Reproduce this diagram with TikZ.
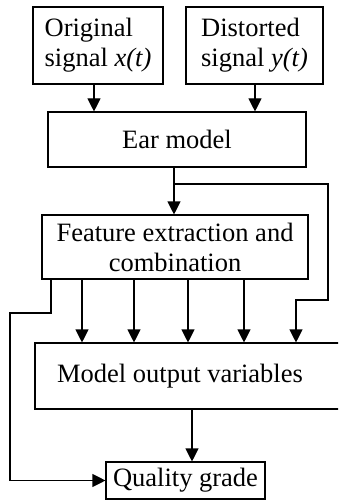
\documentclass[tikz,border=0pt]{standalone}
\usepackage{fontspec}
\setmainfont{Liberation Serif}
\usetikzlibrary{arrows.meta}
\begin{document}
\begin{tikzpicture}[x=1pt,y=-1pt,
  box/.style={draw,line width=1.1pt,rectangle,inner sep=0pt,
    font=\fontsize{26.5}{30}\selectfont},
  flow/.style={line width=1.1pt,-{Triangle[width=13pt,length=13pt]}},
  wire/.style={line width=1.1pt}]
\useasboundingbox (0,0) rectangle (338,500);
\clip (0,0) rectangle (338,500);

% blocks
\node[box,minimum width=130pt,minimum height=77pt,align=left] (orig) at (98,45.5)
  {Original\\signal \textit{x(t)}};
\node[box,minimum width=137pt,minimum height=77pt,align=left] (dist) at (254.5,45.5)
  {Distorted\\signal \textit{y(t)}};
\node[box,minimum width=258pt,minimum height=55pt] (ear) at (177,139.5) {Ear model};
\node[box,minimum width=266pt,minimum height=64pt,align=center] (feat) at (175,247)
  {Feature extraction and\\combination};
\node[box,minimum width=310pt,minimum height=66pt] (mov) at (190,376) {};
\node[font=\fontsize{26.5}{30}\selectfont,inner sep=0pt] (movtxt) at (180,376)
  {Model output variables};
\node[box,minimum width=159pt,minimum height=37pt] (qual) at (185.5,480.5) {Quality grade};

% inputs to the ear model
\draw[flow] (94,0 |- orig.south) -- (94,0 |- ear.north);
\draw[flow] (255,0 |- dist.south) -- (255,0 |- ear.north);

% ear model to feature extraction, with a branch round the right side
\coordinate (j) at (174,184);
\draw[flow] (174,0 |- ear.south) -- (174,0 |- feat.north);
\draw[flow] (j) -- (328,184) -- (328,300) -- (296,300) -- (296,0 |- mov.north);

% feature outputs
\foreach \px in {82,134,188,244}
  \draw[flow] (\px,0 |- feat.south) -- (\px,0 |- mov.north);

% bypass to the quality grade
\draw[flow] (51,0 |- feat.south) -- (51,313) -- (10,313) -- (10,0 |- qual.west) -- (qual.west);

% model output to quality grade
\draw[flow] (192,0 |- mov.south) -- (192,0 |- qual.north);
\end{tikzpicture}
\end{document}
